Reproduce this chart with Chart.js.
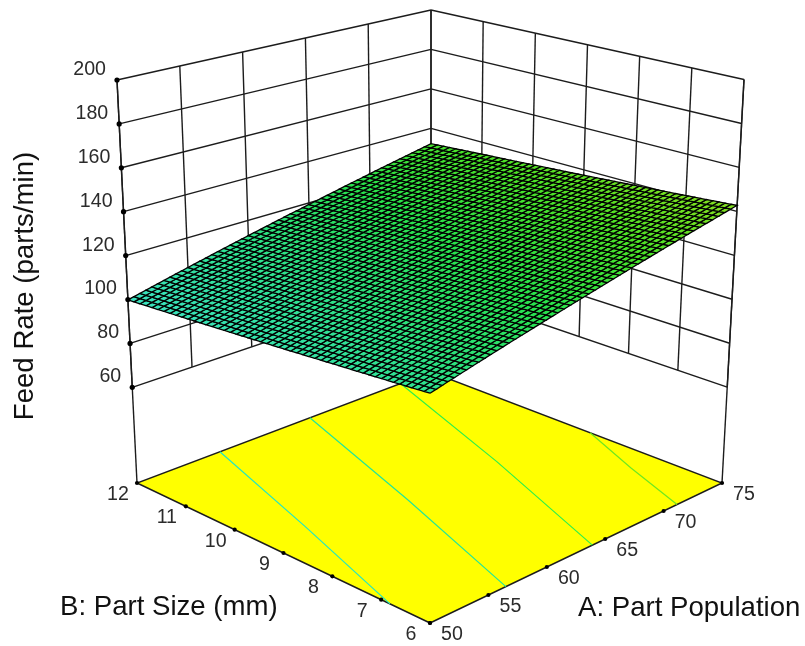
<!DOCTYPE html>
<html>
<head>
<meta charset="utf-8">
<title>Feed Rate surface</title>
<script src="https://cdn.jsdelivr.net/npm/chart.js@4"></script>
<style>
  html, body { margin: 0; padding: 0; background: #fff; }
  canvas { display: block; }
</style>
</head>
<body>
<canvas id="surface" width="805" height="646"></canvas>
<script>
// --- 1. DATA ---
const partPopulation = [50, 55, 60, 65, 70, 75];
const partSize = [6, 7, 8, 9, 10, 11, 12];
const feedTicks = [60, 80, 100, 120, 140, 160, 180, 200];

const feedAtSize6  = [111.3, 117.6, 123.8, 130.1, 136.4, 142.7];
const feedAtSize7  = [109.4, 115.7, 122.0, 128.3, 134.7, 140.9];
const feedAtSize8  = [107.5, 113.8, 120.2, 126.5, 132.9, 139.2];
const feedAtSize9  = [105.5, 111.9, 118.3, 124.8, 131.1, 137.4];
const feedAtSize10 = [103.6, 110.0, 116.5, 123.0, 129.4, 135.7];
const feedAtSize11 = [101.7, 108.2, 114.6, 121.1, 127.6, 134.0];
const feedAtSize12 = [99.8, 106.3, 112.8, 119.2, 125.7, 132.2];
const feedRows = [feedAtSize6, feedAtSize7, feedAtSize8, feedAtSize9, feedAtSize10, feedAtSize11, feedAtSize12];

// contours on the floor, as [part population, part size] readings
const contour1A = [50, 53.5, 57.05];
const contour1B = [6.82, 9.4, 12];
const contour2A = [56.5, 60.6, 64.7];
const contour2B = [6, 9, 12];
const contour3A = [63.9, 68.2, 72.4];
const contour3B = [6, 9, 12];
const contour4A = [71.15, 73, 75];
const contour4B = [6, 7.4, 8.72];

// --- 2. VIEW ---
const FLOOR_Z = 16.4, TOP_Z = 200, MESH = 50;
const INK = '#1c1c1c';
const TICK_FONT = '19.6px "Liberation Sans"', TITLE_FONT = '27.6px "Liberation Sans"';

// where the eight corners of the box land: [A low/high][B low/high][floor/top]
const box = {
  floor: { a0b0: [430, 623], a1b0: [722, 483], a1b1: [431, 372], a0b1: [137, 483] },
  top:   { a0b0: [430, 178.5], a1b0: [744, 79.5], a1b1: [431, 10], a0b1: [117, 80] }
};

function project(a, b, z) {
  const u = (a - 50) / 25, v = (b - 6) / 6, w = (z - FLOOR_Z) / (TOP_Z - FLOOR_Z);
  const layer = (c, i) => c.a0b0[i] * (1 - u) * (1 - v) + c.a1b0[i] * u * (1 - v) + c.a1b1[i] * u * v + c.a0b1[i] * (1 - u) * v;
  return {
    x: layer(box.floor, 0) * (1 - w) + layer(box.top, 0) * w,
    y: layer(box.floor, 1) * (1 - w) + layer(box.top, 1) * w
  };
}

function feedAt(a, b) {
  const col = Math.min(4, Math.floor((a - 50) / 5)), row = Math.min(5, Math.floor(b - 6));
  const s = (a - 50) / 5 - col, t = b - 6 - row;
  return (feedRows[row][col] * (1 - s) + feedRows[row][col + 1] * s) * (1 - t) +
         (feedRows[row + 1][col] * (1 - s) + feedRows[row + 1][col + 1] * s) * t;
}

const colorZ = [98, 112, 124, 134, 144];
const colorRGB = [[60, 226, 200], [46, 226, 140], [40, 226, 76], [76, 226, 40], [140, 222, 30]];

function cellColor(z) {
  let i = 0;
  while (i < colorZ.length - 2 && z > colorZ[i + 1]) i++;
  const t = Math.max(0, Math.min(1, (z - colorZ[i]) / (colorZ[i + 1] - colorZ[i])));
  const c = colorRGB[i].map((n, k) => Math.round(n + (colorRGB[i + 1][k] - n) * t));
  return `rgb(${c[0]},${c[1]},${c[2]})`;
}

// --- 3. DATASETS (listed back to front) ---
const layers = [];

function addLine(points, color, width) {
  layers.push({ data: points, showLine: true, borderColor: color, borderWidth: width, pointRadius: 0, fill: false, clip: false });
}

// back walls
feedTicks.forEach(z => {
  addLine([project(50, 12, z), project(75, 12, z)], INK, 1.4);
  addLine([project(75, 12, z), project(75, 6, z)], INK, 1.4);
});
partPopulation.forEach(a => addLine([project(a, 12, 60), project(a, 12, 200)], INK, 1.4));
partSize.forEach(b => addLine([project(75, b, 60), project(75, b, 200)], INK, 1.4));
addLine([project(50, 12, FLOOR_Z), project(50, 12, 200)], INK, 1.4);
addLine([project(75, 6, FLOOR_Z), project(75, 6, 200)], INK, 1.4);

// floor
const floorOutline = [project(50, 6, FLOOR_Z), project(75, 6, FLOOR_Z), project(75, 12, FLOOR_Z), project(50, 12, FLOOR_Z), project(50, 6, FLOOR_Z)];
layers.push({ data: floorOutline, showLine: true, borderColor: INK, borderWidth: 1.4, backgroundColor: '#ffff00', pointRadius: 0, fill: 'shape', clip: false });

const onFloor = (as, bs) => as.map((a, i) => project(a, bs[i], FLOOR_Z));
addLine(onFloor(contour1A, contour1B), '#22e6c4', 1.2);
addLine(onFloor(contour2A, contour2B), '#22e69a', 1.2);
addLine(onFloor(contour3A, contour3B), '#2ef04a', 1.2);
addLine(onFloor(contour4A, contour4B), '#6ee820', 1.2);

// surface mesh, one filled cell per dataset
for (let i = 0; i < MESH; i++) {
  for (let j = 0; j < MESH; j++) {
    const a0 = 50 + 25 * i / MESH, a1 = 50 + 25 * (i + 1) / MESH;
    const b0 = 6 + 6 * j / MESH, b1 = 6 + 6 * (j + 1) / MESH;
    const corners = [[a0, b0], [a1, b0], [a1, b1], [a0, b1], [a0, b0]];
    const pts = corners.map(c => project(c[0], c[1], feedAt(c[0], c[1])));
    layers.push({
      data: pts, showLine: true, borderColor: '#000', borderWidth: 1.3,
      backgroundColor: cellColor(feedAt((a0 + a1) / 2, (b0 + b1) / 2)),
      pointRadius: 0, fill: 'shape', clip: false
    });
  }
}

// axis tick dots
function addDots(points, radius) {
  layers.push({ data: points, showLine: false, pointRadius: radius, pointBackgroundColor: '#000', pointBorderWidth: 0, clip: false });
}
addDots(feedTicks.map(z => project(50, 12, z)), 2.6);
addDots(partSize.map(b => project(50, b, FLOOR_Z)), 2.1);
addDots(partPopulation.map(a => project(a, 6, FLOOR_Z)), 2.1);

// --- 4. TEXT ---
const axisText = {
  id: 'axisText',
  afterDraw(chart) {
    const { ctx, scales } = chart;
    const px = p => ({ x: scales.x.getPixelForValue(p.x), y: scales.y.getPixelForValue(p.y) });
    ctx.save();
    ctx.textBaseline = 'middle';
    ctx.font = TICK_FONT;
    ctx.fillStyle = '#2b2b2b';
    ctx.textAlign = 'right';
    feedTicks.forEach(z => { const p = px(project(50, 12, z)); ctx.fillText(z, p.x - 11, p.y - 10.5); });
    ctx.textAlign = 'center';
    partSize.forEach(b => { const p = px(project(50, b, FLOOR_Z)); ctx.fillText(b, p.x - 19, p.y + 11.5); });
    partPopulation.forEach(a => { const p = px(project(a, 6, FLOOR_Z)); ctx.fillText(a, p.x + 22, p.y + 12); });

    ctx.font = TITLE_FONT;
    ctx.fillStyle = '#111';
    ctx.textAlign = 'left';
    ctx.fillText('B: Part Size (mm)', 60, 607);
    ctx.fillText('A: Part Population', 578, 608);
    ctx.translate(25, 286);
    ctx.rotate(-Math.PI / 2);
    ctx.textAlign = 'center';
    ctx.fillText('Feed Rate (parts/min)', 0, 0);
    ctx.restore();
  }
};

// --- 5. CHART ---
new Chart(document.getElementById('surface'), {
  type: 'scatter',
  data: { datasets: layers.reverse() },   // first dataset is painted last
  options: {
    responsive: false,
    animation: false,
    events: [],
    layout: { padding: 0, autoPadding: false },
    plugins: { legend: { display: false }, tooltip: { enabled: false }, title: { display: false } },
    scales: {
      x: { type: 'linear', min: 0, max: 805, display: false },
      y: { type: 'linear', min: 0, max: 646, reverse: true, display: false }
    }
  },
  plugins: [axisText]
});
</script>
</body>
</html>
